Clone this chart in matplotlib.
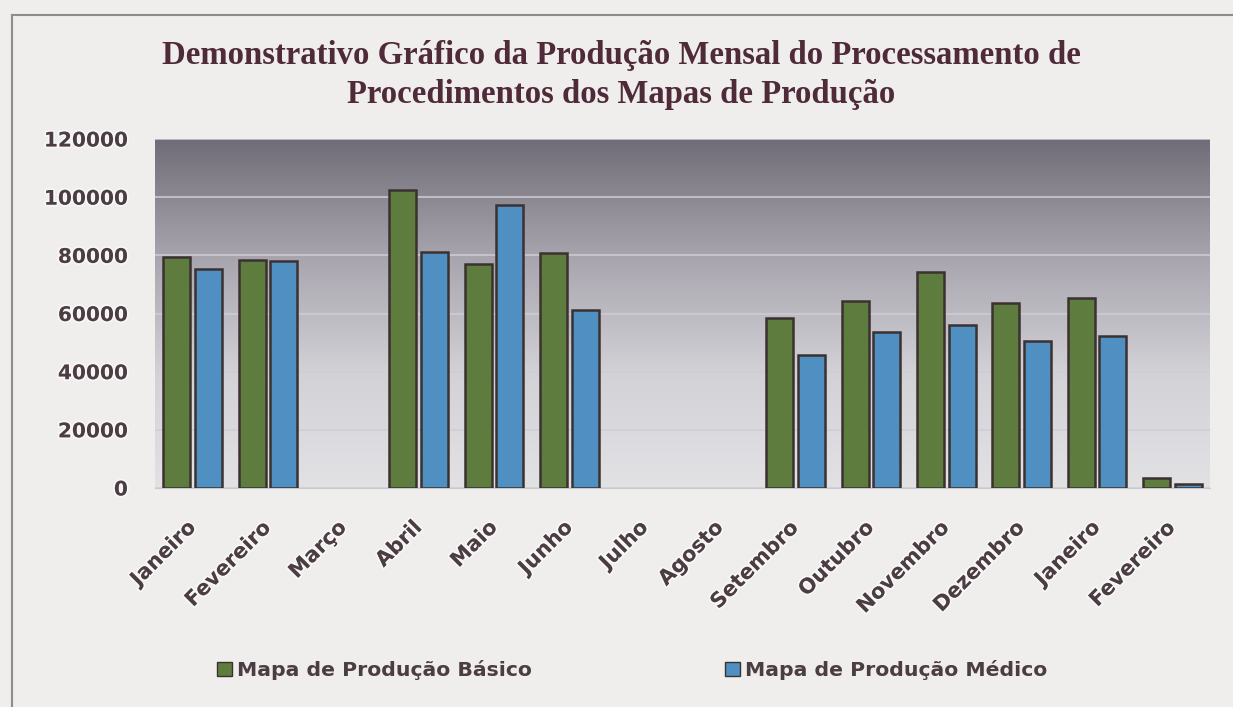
import matplotlib
matplotlib.use("Agg")
import matplotlib.pyplot as plt
import numpy as np
from matplotlib import patheffects as pe
from matplotlib.colors import LinearSegmentedColormap
from matplotlib.patches import Patch

# Dados
meses = ["Janeiro", "Fevereiro", "Março", "Abril", "Maio", "Junho", "Julho",
         "Agosto", "Setembro", "Outubro", "Novembro", "Dezembro", "Janeiro", "Fevereiro"]
basico = [79300, 78400, None, 102500, 76900, 80900, None, None,
          58600, 64200, 74100, 63700, 65400, 3400]
medico = [75300, 77900, None, 81200, 97400, 61300, None, None,
          45900, 53500, 56100, 50400, 52100, 1250]
yticks = [0, 20000, 40000, 60000, 80000, 100000, 120000]

titulo = ("Demonstrativo Gráfico da Produção Mensal do Processamento de\n"
          "Procedimentos dos Mapas de Produção")
serie_nomes = ["Mapa de Produção Básico", "Mapa de Produção Médico"]

cor_verde = "#5e7c3e"
cor_azul = "#4f8fc2"
cor_borda = "#3b3131"
cor_texto = "#4b3d42"

W, H = 1233, 707
fig = plt.figure(figsize=(W / 100, H / 100), dpi=100, facecolor="#efeeed")
ax = fig.add_axes([155 / W, 1 - 488 / H, (1210 - 155) / W, (488 - 139) / H])

# moldura da imagem
fig.add_artist(plt.Line2D([12 / W, 1.0], [1 - 15 / H, 1 - 15 / H], color="#8c8c8c", lw=1.5))
fig.add_artist(plt.Line2D([12 / W, 12 / W], [0, 1 - 15 / H], color="#8c8c8c", lw=1.5))

# fundo em degradê da área de plotagem
grad = LinearSegmentedColormap.from_list("fundo", ["#716d78", "#a7a4ad", "#d2d1d6", "#e2e2e5"])
ax.imshow(np.linspace(0, 1, 256).reshape(-1, 1), cmap=grad, extent=[0, 1, 0, 1],
          transform=ax.transAxes, aspect="auto", zorder=0)

x = np.arange(len(meses))
largura = 0.36
for vals, desloc, cor in [(basico, -0.21, cor_verde), (medico, 0.21, cor_azul)]:
    xs = [xi + desloc for xi, v in zip(x, vals) if v is not None]
    hs = [v for v in vals if v is not None]
    ax.bar(xs, hs, width=largura, color=cor, edgecolor=cor_borda, linewidth=1.8, zorder=3)

ax.set_xlim(-0.5, len(meses) - 0.5)
ax.set_ylim(0, 120000)
ax.set_yticks(yticks)
ax.yaxis.grid(True, color="#cfced4", lw=1.1, zorder=1)
ax.set_axisbelow(True)
for s in ["top", "right", "left"]:
    ax.spines[s].set_visible(False)
ax.spines["bottom"].set_color("#c8c8cc")
ax.tick_params(length=0)

sombra = [pe.withStroke(linewidth=2.5, foreground=(1, 1, 1, 0.6))]
ax.set_xticks(x)
ax.set_xticklabels(meses, rotation=45, ha="right", va="center", rotation_mode="anchor",
                   fontsize=15, fontweight="bold", color=cor_texto, family="DejaVu Sans")
ax.tick_params(axis="x", pad=26)
ax.set_yticklabels([str(v) for v in yticks], fontsize=14.5, fontweight="bold",
                   color=cor_texto, family="DejaVu Sans")
ax.tick_params(axis="y", pad=19.5)
for t in ax.get_xticklabels() + ax.get_yticklabels():
    t.set_path_effects(sombra)

fig.text(621 / W, 1 - 75 / H, titulo, ha="center", va="center", fontsize=23.6,
         fontweight="bold", family="Liberation Serif", color="#4f2b3a",
         linespacing=1.3)

for nome, cor, xpos in [(serie_nomes[0], cor_verde, 217), (serie_nomes[1], cor_azul, 725)]:
    leg = fig.legend([Patch(facecolor=cor, edgecolor=cor_borda, linewidth=1)], [nome],
                     loc="center left", bbox_to_anchor=(xpos / W, 1 - 670 / H),
                     frameon=False, borderpad=0, borderaxespad=0, handlelength=0.72,
                     handleheight=0.72, handletextpad=0.25,
                     prop={"family": "DejaVu Sans", "weight": "bold", "size": 14.7})
    for t in leg.get_texts():
        t.set_color(cor_texto)

fig.savefig("out.png", dpi=100, facecolor=fig.get_facecolor())
